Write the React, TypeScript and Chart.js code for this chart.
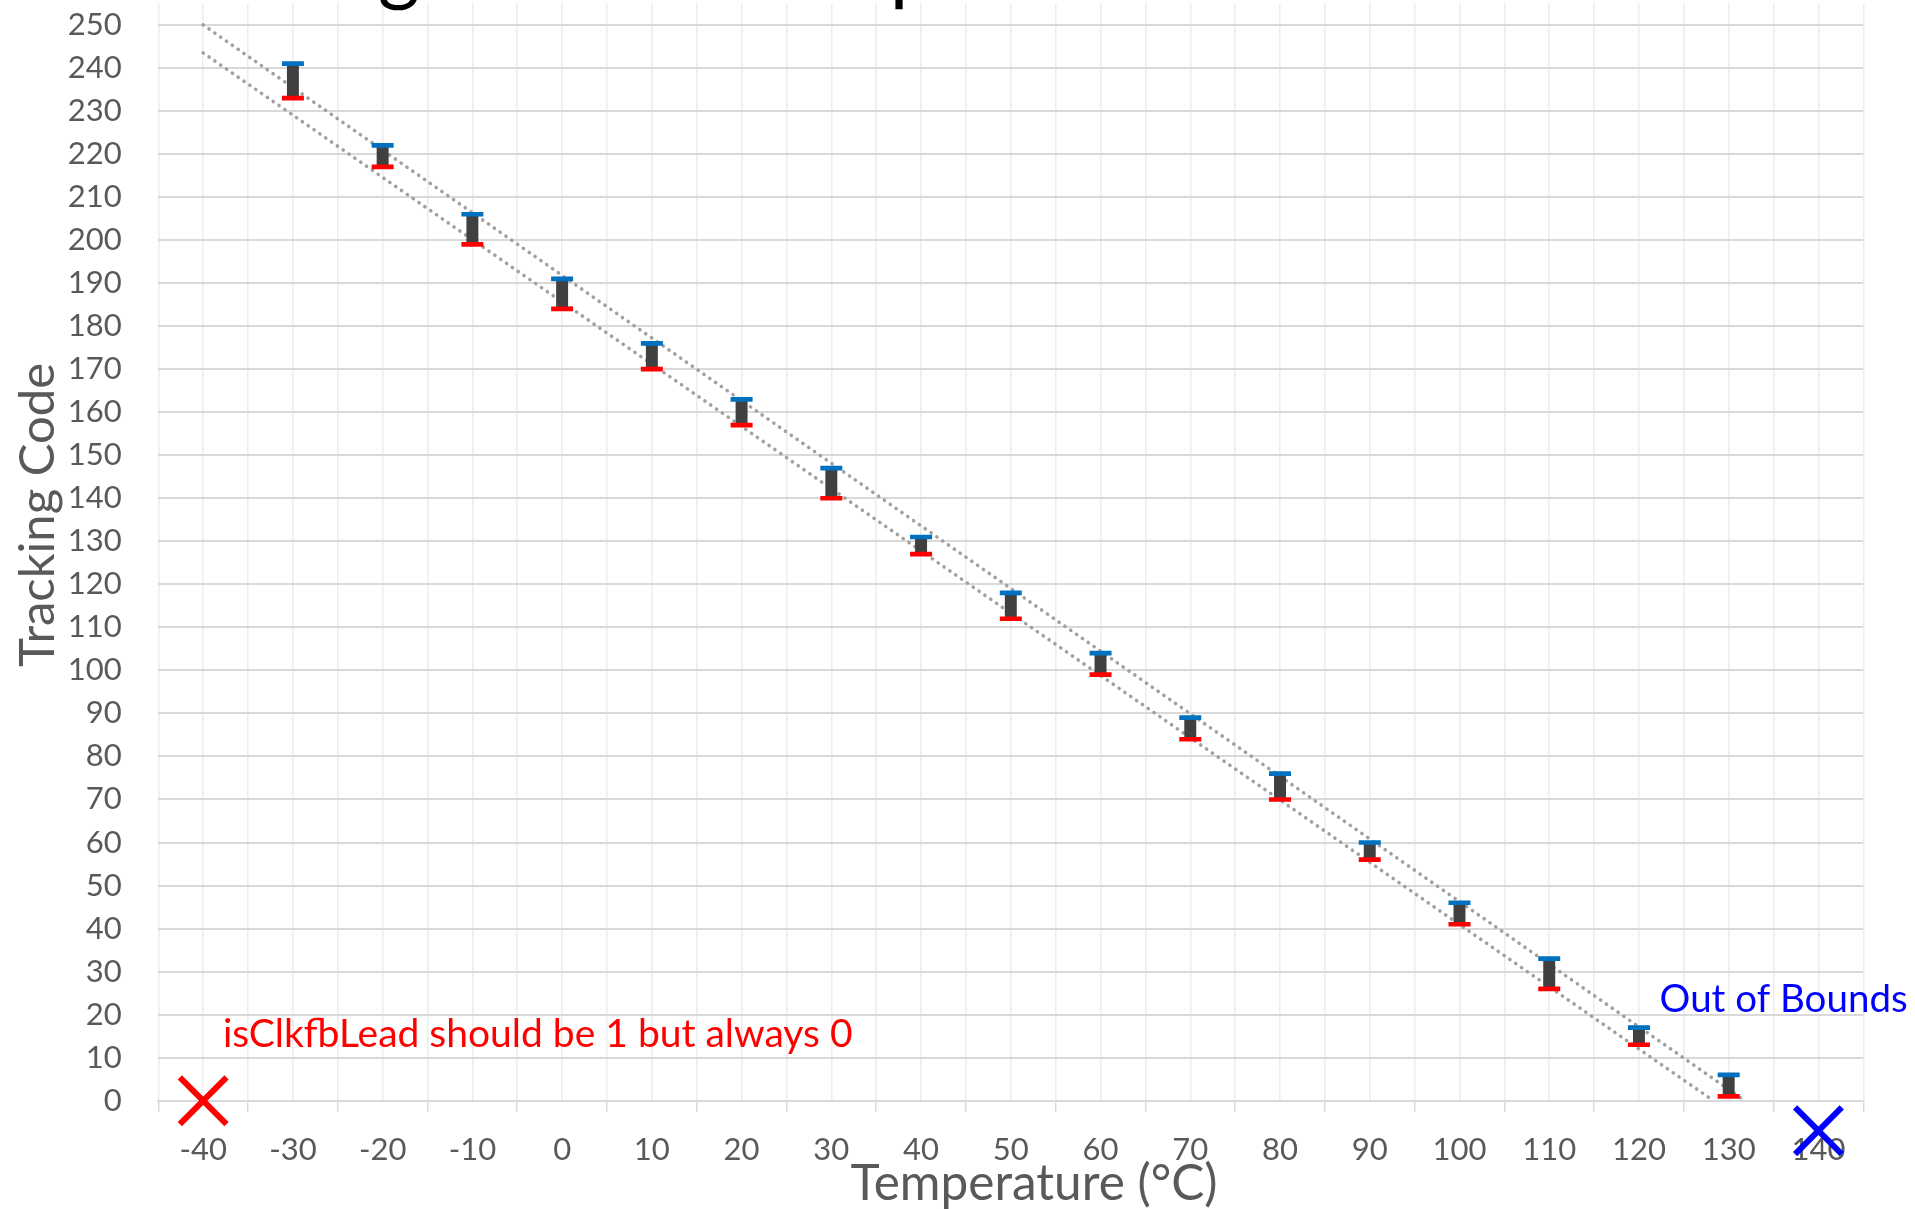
import React, { useEffect, useRef } from 'react';
import { Chart, registerables } from 'chart.js';

Chart.register(...registerables);

// ---- Data ----
const temperatures = [-30, -20, -10, 0, 10, 20, 30, 40, 50, 60, 70, 80, 90, 100, 110, 120, 130];
const codeHigh = [241, 222, 206, 191, 176, 163, 147, 131, 118, 104, 89, 76, 60, 46, 33, 17, 6];
const codeLow = [233, 217, 199, 184, 170, 157, 140, 127, 112, 99, 84, 70, 56, 41, 26, 13, 1];

const upperTrendX = [-40, 131.8];
const upperTrendY = [250, 0];
const lowerTrendX = [-40, 128.3];
const lowerTrendY = [243.5, 0];

const leadFailX = [-40];
const leadFailY = [0];
const outOfBoundsX = [140];
const outOfBoundsY = [-7];

const xAxisMin = -45;
const xAxisMax = 145;
const yAxisMin = 0;
const yAxisMax = 255;

const chartTitle = 'Tracking Code vs Temperature';
const xAxisTitle = 'Temperature (°C)';
const yAxisTitle = 'Tracking Code';
const leadNote = 'isClkfbLead should be 1 but always 0';
const boundsNote = 'Out of Bounds';

const FONT = 'Lato, "Open Sans", sans-serif';
const AXIS_GRAY = '#595959';

const textPlugin = {
  id: 'textOverlay',
  afterDraw(chart: any) {
    const ctx = chart.ctx as CanvasRenderingContext2D;
    const xs = chart.scales.x;
    const ys = chart.scales.y;
    ctx.save();

    // Chart title (mostly above the visible page)
    ctx.font = `100px ${FONT}`;
    const a = ctx.measureText('Trackin').width / 100;
    const b = ctx.measureText('Tracking Code vs Tem').width / 100;
    const F = 512 / (b - a);
    const x0 = 378 - a * F;
    ctx.font = `${F}px ${FONT}`;
    ctx.fillStyle = '#000000';
    ctx.textAlign = 'left';
    ctx.textBaseline = 'alphabetic';
    ctx.fillText(chartTitle, x0, 11 - 0.2 * F);

    // Y axis title
    ctx.save();
    ctx.font = `49px ${FONT}`;
    ctx.fillStyle = AXIS_GRAY;
    ctx.translate(54, 515);
    ctx.rotate(-Math.PI / 2);
    ctx.textAlign = 'center';
    ctx.textBaseline = 'alphabetic';
    ctx.fillText(yAxisTitle, 0, 0);
    ctx.restore();

    // X axis title
    ctx.font = `49.5px ${FONT}`;
    ctx.fillStyle = AXIS_GRAY;
    ctx.textAlign = 'center';
    ctx.textBaseline = 'alphabetic';
    ctx.fillText(xAxisTitle, 1034, 1200);

    // Annotations
    ctx.textAlign = 'left';
    ctx.font = `39px ${FONT}`;
    ctx.fillStyle = '#FF0000';
    ctx.fillText(leadNote, xs.getPixelForValue(-37.8), ys.getPixelForValue(12.5));
    ctx.font = `38.5px ${FONT}`;
    ctx.fillStyle = '#0000FF';
    ctx.fillText(boundsNote, xs.getPixelForValue(122.3), ys.getPixelForValue(20.7));

    ctx.restore();
  },
};

export default function App() {
  const canvasRef = useRef<HTMLCanvasElement | null>(null);

  useEffect(() => {
    if (!canvasRef.current) return;
    const toXY = (xv: number[], yv: number[]) => xv.map((x, i) => ({ x, y: yv[i] }));

    const chart = new Chart(canvasRef.current, {
      type: 'bar',
      data: {
        datasets: [
          {
            type: 'line',
            label: 'Upper trend',
            data: toXY(upperTrendX, upperTrendY),
            borderColor: '#a0a0a0',
            borderWidth: 3.6,
            borderDash: [0.1, 7],
            borderCapStyle: 'round',
            pointRadius: 0,
            fill: false,
            order: 10,
          },
          {
            type: 'line',
            label: 'Lower trend',
            data: toXY(lowerTrendX, lowerTrendY),
            borderColor: '#a0a0a0',
            borderWidth: 3.6,
            borderDash: [0.1, 7],
            borderCapStyle: 'round',
            pointRadius: 0,
            fill: false,
            order: 9,
          },
          {
            type: 'bar',
            label: 'Range',
            data: temperatures.map((t, i) => ({ x: t, y: [codeLow[i], codeHigh[i]] })) as any,
            backgroundColor: '#404040',
            barThickness: 11.3,
            order: 5,
          },
          {
            type: 'line',
            label: 'High',
            data: toXY(temperatures, codeHigh),
            showLine: false,
            pointStyle: 'line',
            pointRadius: 11,
            pointBorderWidth: 4.7,
            pointBorderColor: '#0070C0',
            borderColor: '#0070C0',
            order: 2,
          },
          {
            type: 'line',
            label: 'Low',
            data: toXY(temperatures, codeLow),
            showLine: false,
            pointStyle: 'line',
            pointRadius: 11,
            pointBorderWidth: 4.7,
            pointBorderColor: '#FF0000',
            borderColor: '#FF0000',
            order: 2,
          },
          {
            type: 'line',
            label: 'Lead fail',
            data: toXY(leadFailX, leadFailY),
            showLine: false,
            pointStyle: 'crossRot',
            pointRadius: 33,
            pointBorderWidth: 6,
            pointBorderColor: '#FF0000',
            borderColor: '#FF0000',
            clip: false as any,
            order: 1,
          },
          {
            type: 'line',
            label: 'Out of bounds',
            data: toXY(outOfBoundsX, outOfBoundsY),
            showLine: false,
            pointStyle: 'crossRot',
            pointRadius: 33,
            pointBorderWidth: 6,
            pointBorderColor: '#0000FF',
            borderColor: '#0000FF',
            clip: false as any,
            order: 1,
          },
        ] as any,
      },
      options: {
        responsive: false,
        animation: false,
        devicePixelRatio: 1,
        layout: { autoPadding: false, padding: { top: 3.4, right: 51.7, left: 0, bottom: 0 } },
        plugins: {
          legend: { display: false },
          tooltip: { enabled: false },
          title: { display: false },
        },
        scales: {
          x: {
            type: 'linear',
            min: xAxisMin,
            max: xAxisMax,
            offset: false,
            afterFit: (s: any) => {
              s.height = 108.3;
              s.paddingLeft = 0;
              s.paddingRight = 0;
            },
            ticks: {
              stepSize: 5,
              autoSkip: false,
              maxRotation: 0,
              minRotation: 0,
              color: AXIS_GRAY,
              font: { family: FONT, size: 31 },
              padding: 20,
              callback: (v: any) => (Math.round(Number(v)) % 10 === 0 ? String(Math.round(Number(v))) : ''),
            },
            grid: {
              offset: false,
              color: '#ececec',
              lineWidth: 1.5,
              tickLength: 11,
              tickWidth: 1.5,
              tickColor: (c: any) =>
                c.tick && Math.round(c.tick.value) % 10 === 0 ? 'rgba(0,0,0,0)' : '#d9d9d9',
            },
            border: { display: true, color: '#d9d9d9', width: 2 },
          },
          y: {
            type: 'linear',
            min: yAxisMin,
            max: yAxisMax,
            afterFit: (s: any) => {
              s.width = 158.3;
              s.paddingTop = 0;
              s.paddingBottom = 0;
            },
            ticks: {
              stepSize: 10,
              includeBounds: false,
              color: AXIS_GRAY,
              font: { family: FONT, size: 31 },
              padding: 36.6,
            },
            grid: { color: '#d9d9d9', lineWidth: 2, drawTicks: false },
            border: { display: false },
          },
        },
      } as any,
      plugins: [textPlugin],
    });

    return () => chart.destroy();
  }, []);

  return (
    <div style={{ position: 'fixed', left: 0, top: 0, width: 1915, height: 1209, background: '#ffffff' }}>
      <canvas ref={canvasRef} width={1915} height={1209} style={{ display: 'block' }} />
    </div>
  );
}
